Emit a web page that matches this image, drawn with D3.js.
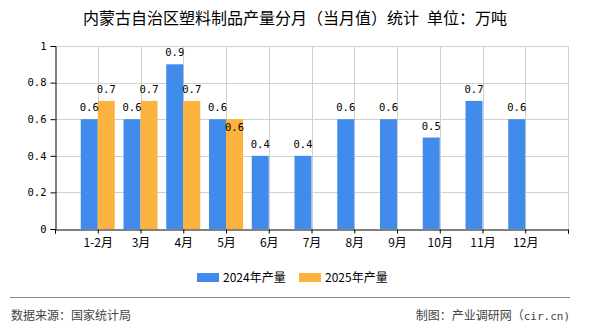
<!DOCTYPE html>
<html><head><meta charset="utf-8">
<script src="https://cdn.jsdelivr.net/npm/d3@7"></script>
<style>body{margin:0;background:#fff}svg{display:block}</style>
</head><body>
<svg id="c" width="590" height="330"></svg>
<script>
const categories = ["1-2月","3月","4月","5月","6月","7月","8月","9月","10月","11月","12月"];
const values2024 = [0.6,0.6,0.9,0.6,0.4,0.4,0.6,0.6,0.5,0.7,0.6];
const values2025 = [0.7,0.7,0.7,0.6,null,null,null,null,null,null,null];
const yTicks = [0,0.2,0.4,0.6,0.8,1];
const seriesNames = ["2024年产量","2025年产量"];
const colors = ["#418BED","#FCB23F"];

const svg = d3.select("#c");
const cjk = "'Noto Sans CJK SC', sans-serif";
const mono = "'DejaVu Sans Mono', monospace";

const pL=55,pR=568,pT=46,pB=229;
const x = d3.scalePoint().domain(["_s",...categories,"_e"]).range([pL,pR]).padding(0);
const y = d3.scaleLinear().domain([0,1]).range([pB,pT]);
const bw = 17;
const idx = d => categories.indexOf(d);

// grid
const g = svg.append("g");
g.selectAll("line.h").data(yTicks.slice(1)).join("line")
  .attr("x1",pL).attr("x2",pR).attr("y1",d=>Math.round(y(d))+0.5).attr("y2",d=>Math.round(y(d))+0.5)
  .attr("stroke","#d0d0d0").attr("stroke-width",1);
g.selectAll("line.v").data(x.domain().slice(1)).join("line")
  .attr("x1",d=>Math.round(x(d))+0.5).attr("x2",d=>Math.round(x(d))+0.5).attr("y1",pT).attr("y2",pB)
  .attr("stroke","#d0d0d0").attr("stroke-width",1);

// bars
const b = svg.append("g");
b.selectAll("rect.a").data(categories).join("rect")
  .attr("x",d=>x(d)-bw).attr("width",bw)
  .attr("y",d=>y(values2024[idx(d)])).attr("height",d=>pB-y(values2024[idx(d)]))
  .attr("fill",colors[0]);
const c25 = categories.filter((d,i)=>values2025[i]!=null);
b.selectAll("rect.b").data(c25).join("rect")
  .attr("x",d=>x(d)).attr("width",bw)
  .attr("y",d=>y(values2025[idx(d)])).attr("height",d=>pB-y(values2025[idx(d)]))
  .attr("fill",colors[1]);

// value labels
const lab = svg.append("g").attr("font-family",mono).attr("font-size","10.5px").attr("fill","#000").attr("text-anchor","middle");
lab.selectAll("text.a").data(categories).join("text")
  .attr("x",d=>x(d)-bw/2).attr("y",d=>y(values2024[idx(d)])-8)
  .text(d=>values2024[idx(d)]);
lab.selectAll("text.b").data(c25).join("text")
  .attr("x",d=>x(d)+bw/2)
  .attr("y",d=>{const v=values2025[idx(d)], yy=y(v); return (v===values2024[idx(d)]) ? yy+12 : yy-8;})
  .text(d=>values2025[idx(d)]);

// axes
const ya = svg.append("g").attr("transform",`translate(${pL+0.5},0)`)
  .call(d3.axisLeft(y).tickValues(yTicks).tickSize(5).tickPadding(4).tickFormat(d=>d===0||d===1?String(d):d3.format(".1f")(d)));
ya.select(".domain").attr("stroke","#000");
ya.selectAll(".tick line").attr("stroke","#000");
ya.selectAll("text").attr("font-family",mono).attr("font-size","10.5px").attr("fill","#000");

const xa = svg.append("g").attr("transform",`translate(0,${pB+0.5})`)
  .call(d3.axisBottom(x).tickSize(4).tickPadding(5).tickFormat(d=>d.startsWith("_")?"":d));
xa.select(".domain").attr("stroke","#000");
xa.selectAll(".tick line").attr("stroke","#000");
xa.selectAll("text").attr("font-family",cjk).attr("font-size","12px").attr("fill","#000");

// title
svg.append("text").attr("x",295).attr("y",24).attr("text-anchor","middle")
  .attr("font-family",cjk).attr("font-size","16px").attr("fill","#000")
  .text("内蒙古自治区塑料制品产量分月（当月值）统计\u2002单位：万吨");

// legend
const lg = svg.append("g");
const lx=[197,299];
seriesNames.forEach((n,i)=>{
  lg.append("rect").attr("x",lx[i]).attr("y",273).attr("width",22).attr("height",9).attr("fill",colors[i]);
  lg.append("text").attr("x",lx[i]+26).attr("y",282).attr("font-family",cjk).attr("font-size","12px").attr("fill","#000").text(n);
});

// footer
svg.append("line").attr("x1",10).attr("x2",570).attr("y1",297.5).attr("y2",297.5).attr("stroke","#888").attr("stroke-width",1);
svg.append("text").attr("x",11).attr("y",320).attr("font-family",cjk).attr("font-size","12px").attr("fill","#444").text("数据来源：国家统计局");
const ft = svg.append("text").attr("x",570).attr("y",320).attr("text-anchor","end").attr("font-family",cjk).attr("font-size","12px").attr("fill","#444");
ft.append("tspan").text("制图：产业调研网（");
ft.append("tspan").attr("font-family",mono).attr("font-size","11px").text("cir.cn)");
</script>
</body></html>
